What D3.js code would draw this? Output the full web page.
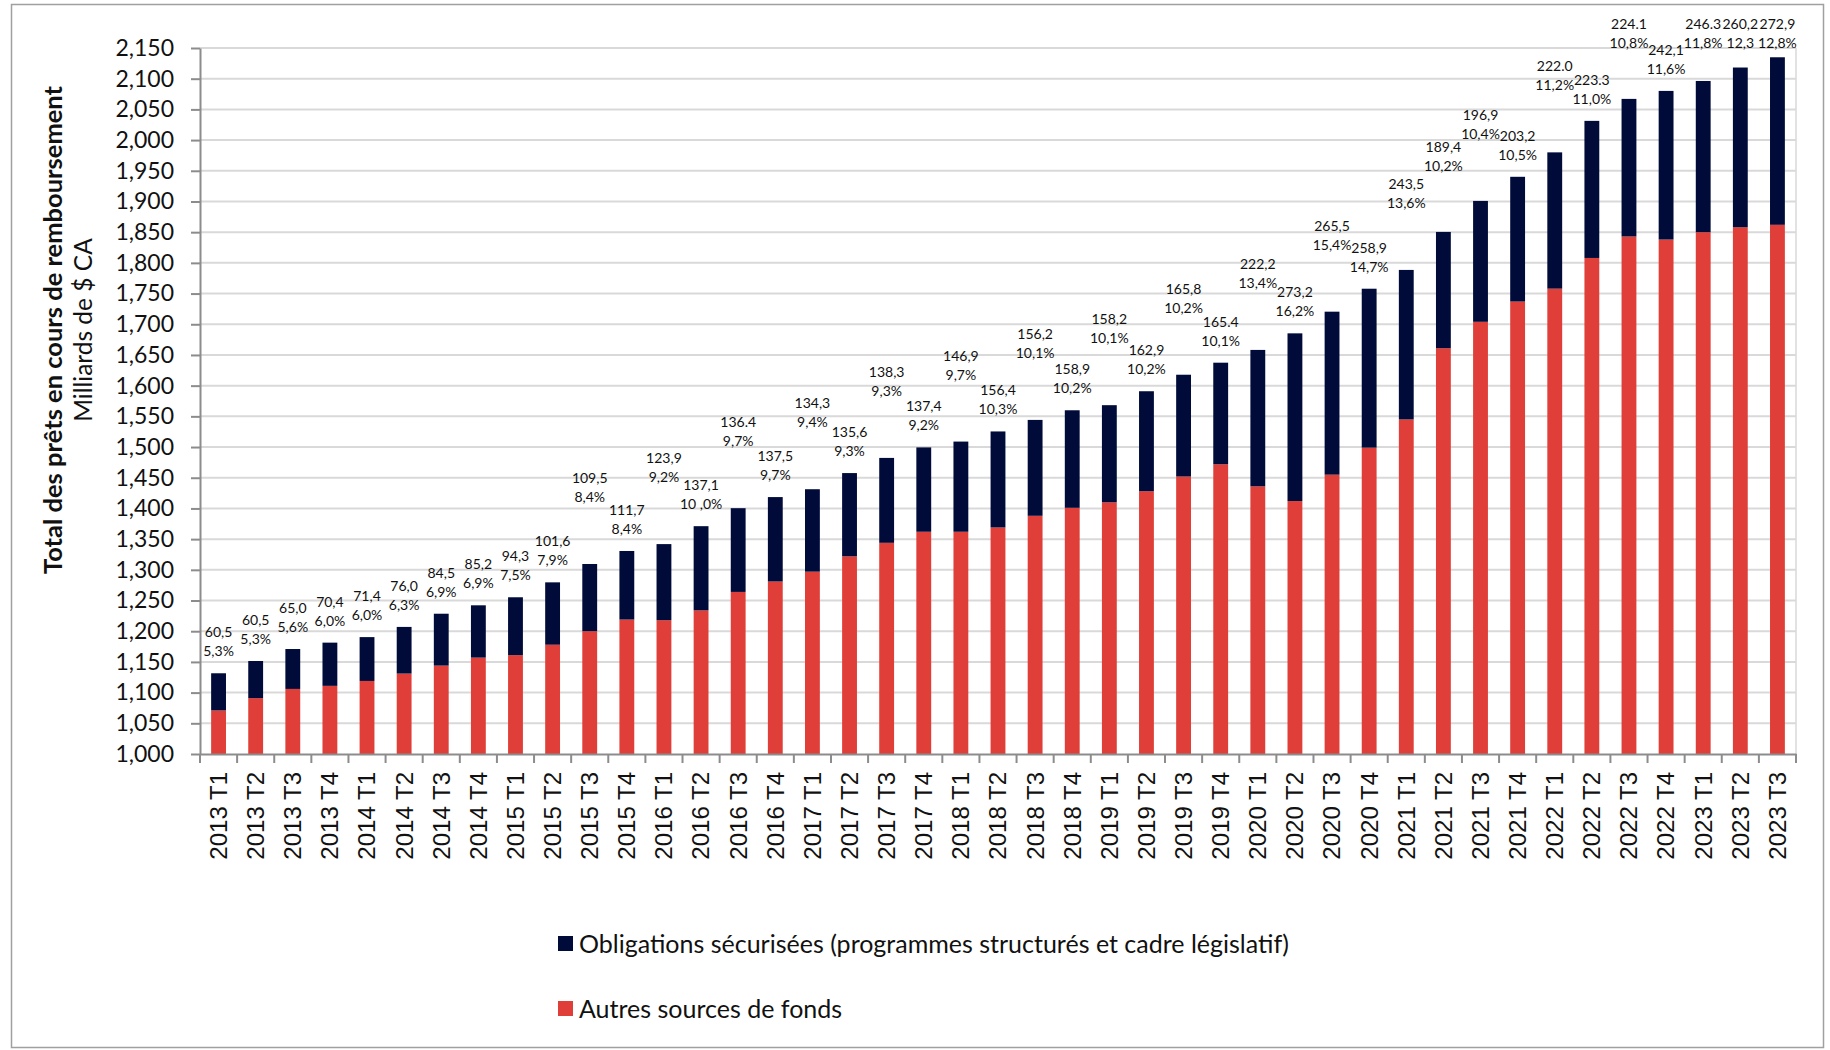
<!DOCTYPE html>
<html>
<head>
<meta charset="utf-8">
<script src="https://cdn.jsdelivr.net/npm/d3@7"></script>
<style>
  body { margin: 0; background: #fff; }
  svg { display: block; }
</style>
</head>
<body>
<svg width="1830" height="1050"></svg>
<script>
const quarters = [
  '2013 T1', '2013 T2', '2013 T3', '2013 T4',
  '2014 T1', '2014 T2', '2014 T3', '2014 T4',
  '2015 T1', '2015 T2', '2015 T3', '2015 T4',
  '2016 T1', '2016 T2', '2016 T3', '2016 T4',
  '2017 T1', '2017 T2', '2017 T3', '2017 T4',
  '2018 T1', '2018 T2', '2018 T3', '2018 T4',
  '2019 T1', '2019 T2', '2019 T3', '2019 T4',
  '2020 T1', '2020 T2', '2020 T3', '2020 T4',
  '2021 T1', '2021 T2', '2021 T3', '2021 T4',
  '2022 T1', '2022 T2', '2022 T3', '2022 T4',
  '2023 T1', '2023 T2', '2023 T3'
]

// autres sources de fonds (milliards $)
const autres = [
  1071, 1091, 1106, 1111,
  1119, 1131, 1144, 1157,
  1161, 1178, 1200, 1219,
  1218, 1234, 1264, 1281,
  1297, 1322, 1344, 1362,
  1362, 1369, 1388, 1401,
  1410, 1428, 1452, 1472,
  1436, 1412, 1455, 1499,
  1545, 1661, 1704, 1737,
  1758, 1808, 1843, 1838,
  1850, 1858, 1862
]

// obligations sécurisées (milliards $)
const obligations = [
  60.5, 60.5, 65.0, 70.4,
  71.4, 76.0, 84.5, 85.2,
  94.3, 101.6, 109.5, 111.7,
  123.9, 137.1, 136.4, 137.5,
  134.3, 135.6, 138.3, 137.4,
  146.9, 156.4, 156.2, 158.9,
  158.2, 162.9, 165.8, 165.4,
  222.2, 273.2, 265.5, 258.9,
  243.5, 189.4, 196.9, 203.2,
  222.0, 223.3, 224.1, 242.1,
  246.3, 260.2, 272.9
]

// étiquettes telles qu'elles apparaissent sur le graphique
const montantLabels = [
  '60,5', '60,5', '65,0', '70,4',
  '71,4', '76,0', '84,5', '85,2',
  '94,3', '101,6', '109,5', '111,7',
  '123,9', '137,1', '136.4', '137,5',
  '134,3', '135,6', '138,3', '137,4',
  '146,9', '156,4', '156,2', '158,9',
  '158,2', '162,9', '165,8', '165.4',
  '222,2', '273,2', '265,5', '258,9',
  '243,5', '189,4', '196,9', '203,2',
  '222.0', '223.3', '224.1', '242,1',
  '246.3', '260,2', '272,9'
]

const pctLabels = [
  '5,3%', '5,3%', '5,6%', '6,0%',
  '6,0%', '6,3%', '6,9%', '6,9%',
  '7,5%', '7,9%', '8,4%', '8,4%',
  '9,2%', '10 ,0%', '9,7%', '9,7%',
  '9,4%', '9,3%', '9,3%', '9,2%',
  '9,7%', '10,3%', '10,1%', '10,2%',
  '10,1%', '10,2%', '10,2%', '10,1%',
  '13,4%', '16,2%', '15,4%', '14,7%',
  '13,6%', '10,2%', '10,4%', '10,5%',
  '11,2%', '11,0%', '10,8%', '11,6%',
  '11,8%', '12,3', '12,8%'
]

const yTicks = [1000, 1050, 1100, 1150, 1200, 1250, 1300, 1350, 1400, 1450, 1500,
  1550, 1600, 1650, 1700, 1750, 1800, 1850, 1900, 1950, 2000, 2050, 2100, 2150]

const seriesNames = ['Obligations sécurisées (programmes structurés et cadre législatif)', 'Autres sources de fonds']

const colors = {obligations: '#010b3a', autres: '#df3f38'}
const calibriLike = 'Lato, "Open Sans", sans-serif'

const svg = d3.select('svg')
const margin = {top: 48, right: 34, bottom: 296, left: 200}
const width = 1830 - margin.left - margin.right
const height = 1050 - margin.top - margin.bottom

// cadre du graphique
svg.append('rect')
  .attr('x', 11.5).attr('y', 4.5)
  .attr('width', 1812).attr('height', 1043)
  .attr('fill', 'none')
  .attr('stroke', '#a0a0a0')
  .attr('stroke-width', 1.5)

const g = svg.append('g').attr('transform', 'translate(' + margin.left + ',' + margin.top + ')')

const rows = quarters.map((q, i) => ({quarter: q, autres: autres[i], obligations: obligations[i]}))

const x = d3.scaleBand()
  .domain(quarters)
  .range([0, width])
  .paddingInner(0.6)
  .paddingOuter(0.3)

const y = d3.scaleLinear()
  .domain([1000, 2150])
  .range([height, 0])
  .clamp(true)

// grille
g.append('g')
  .selectAll('line')
  .data(yTicks.slice(1))
  .enter().append('line')
    .attr('x1', 0).attr('x2', width)
    .attr('y1', d => y(d)).attr('y2', d => y(d))
    .attr('stroke', '#d9d9d9')
    .attr('stroke-width', 2)

g.append('line')
  .attr('x1', width).attr('x2', width)
  .attr('y1', 0).attr('y2', height)
  .attr('stroke', '#d9d9d9')
  .attr('stroke-width', 1.5)

// barres empilées
const stack = d3.stack().keys(['autres', 'obligations'])
const series = stack(rows)

g.append('g')
  .selectAll('g')
  .data(series)
  .enter().append('g')
    .attr('fill', d => colors[d.key])
  .selectAll('rect')
  .data(d => d)
  .enter().append('rect')
    .attr('x', d => x(d.data.quarter))
    .attr('width', x.bandwidth())
    .attr('y', d => y(d[1]))
    .attr('height', d => y(d[0]) - y(d[1]))

// axe Y
const yAxis = g.append('g')
  .call(d3.axisLeft(y)
    .tickValues(yTicks)
    .tickFormat(d3.format(','))
    .tickSize(9)
    .tickSizeOuter(0)
    .tickPadding(17))

yAxis.select('.domain').attr('stroke', '#8c8c8c').attr('stroke-width', 2)
yAxis.selectAll('.tick line').attr('stroke', '#8c8c8c').attr('stroke-width', 2)
yAxis.selectAll('text')
  .attr('font-family', calibriLike)
  .attr('font-size', 23)
  .attr('fill', '#111')

// axe X
const xAxis = g.append('g')
  .attr('transform', 'translate(0,' + height + ')')
  .call(d3.axisBottom(x).tickSize(0).tickSizeOuter(0))

xAxis.select('.domain').attr('stroke', '#8c8c8c').attr('stroke-width', 2)
xAxis.selectAll('text')
  .attr('transform', 'rotate(-90)')
  .attr('x', -18)
  .attr('y', 0)
  .attr('dy', '0.35em')
  .attr('text-anchor', 'end')
  .attr('font-family', '"Liberation Sans", Arial, sans-serif')
  .attr('font-size', 24)
  .attr('fill', '#111')

// traits entre les catégories
xAxis.selectAll('line.sep')
  .data(d3.range(quarters.length + 1))
  .enter().append('line')
    .attr('class', 'sep')
    .attr('x1', k => k * x.step()).attr('x2', k => k * x.step())
    .attr('y1', 0).attr('y2', 9)
    .attr('stroke', '#8c8c8c')
    .attr('stroke-width', 2)

// étiquettes de données (montant + part)
const lineGap = 19
const lowOffset = 17
const highOffset = 62
const minBaseline = 29 - margin.top

const labels = g.append('g')
  .attr('font-family', calibriLike)
  .attr('font-size', 14)
  .attr('fill', '#111')
  .attr('text-anchor', 'middle')
  .selectAll('g')
  .data(rows)
  .enter().append('g')

labels.append('text').attr('class', 'amt').text((d, i) => montantLabels[i])
labels.append('text').attr('class', 'pct').text((d, i) => pctLabels[i])

const widths = []
labels.each(function (d, i) {
  const w1 = d3.select(this).select('.amt').node().getComputedTextLength()
  const w2 = d3.select(this).select('.pct').node().getComputedTextLength()
  widths[i] = Math.max(w1, w2)
})

// une étiquette sur deux monte quand elle serait trop large pour rester à côté de ses voisines
const raised = widths.map((w, i) => {
  const neighbour = Math.max(widths[i - 1] || 0, widths[i + 1] || 0)
  return i % 2 === 0 && (w + neighbour) / 2 > x.step() - 3
})

const placed = []
rows.forEach((d, i) => {
  const top = y(d.autres + d.obligations)
  let b = top - (raised[i] ? highOffset : lowOffset)
  const prev = placed[i - 1]
  if (prev) {
    const overlap = Math.min(b + 3, prev.y1) - Math.max(b - lineGap - 11, prev.y0)
    const touching = (widths[i] + widths[i - 1]) / 2 > x.step() - 4
    if (touching && overlap > 20) b = prev.y0 - 7
  }
  b = Math.max(b, minBaseline + lineGap)
  placed[i] = {b: b, y0: b - lineGap - 11, y1: b + 3}
})

labels.each(function (d, i) {
  const cx = x(d.quarter) + x.bandwidth() / 2
  d3.select(this).select('.amt').attr('x', cx).attr('y', placed[i].b - lineGap)
  d3.select(this).select('.pct').attr('x', cx).attr('y', placed[i].b)
})

// titres de l'axe Y
svg.append('text')
  .attr('transform', 'translate(53,330) rotate(-90)')
  .attr('dy', '0.35em')
  .attr('text-anchor', 'middle')
  .attr('font-family', calibriLike)
  .attr('font-weight', 'bold')
  .attr('font-size', 25.5)
  .attr('fill', '#111')
  .text('Total des prêts en cours de remboursement')

svg.append('text')
  .attr('transform', 'translate(83,330) rotate(-90)')
  .attr('dy', '0.35em')
  .attr('text-anchor', 'middle')
  .attr('font-family', calibriLike)
  .attr('font-size', 24.5)
  .attr('fill', '#111')
  .text('Milliards de $ CA')

// légende
const legend = svg.append('g')
  .attr('font-family', calibriLike)
  .attr('font-size', 25)

const legendEnter = legend.selectAll('g')
  .data([colors.obligations, colors.autres])
  .enter().append('g')
    .attr('transform', (d, i) => 'translate(558,' + (936 + i * 65) + ')')

legendEnter.append('rect')
  .attr('width', 15)
  .attr('height', 15)
  .attr('fill', d => d)

legendEnter.append('text')
  .attr('x', 21)
  .attr('y', 7.5)
  .attr('dy', '0.36em')
  .attr('fill', '#111')
  .text((d, i) => seriesNames[i])
</script>
</body>
</html>
